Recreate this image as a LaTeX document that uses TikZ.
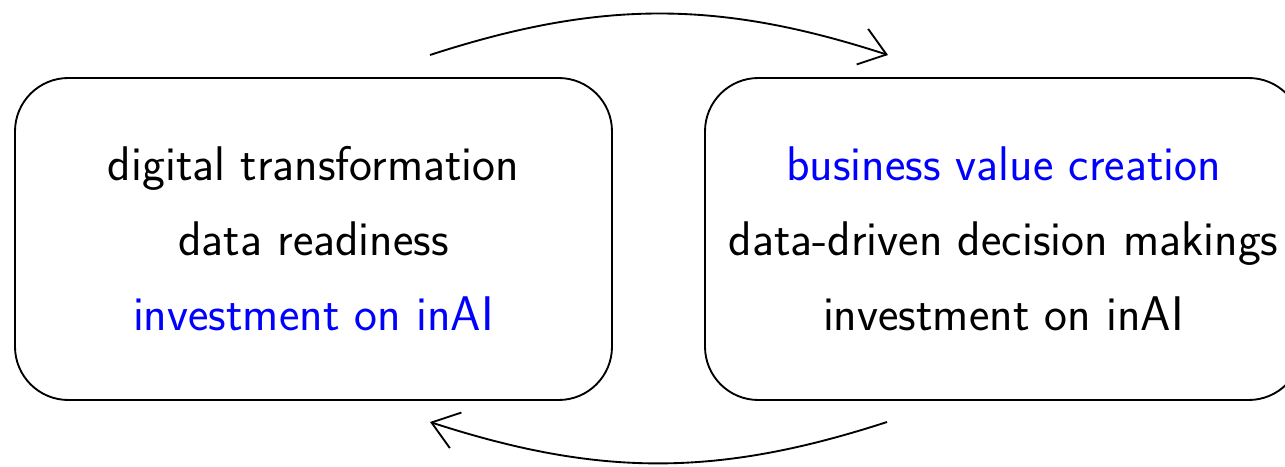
\documentclass[tikz,border=0pt]{standalone}
\usetikzlibrary{arrows.meta}
\begin{document}
\begin{tikzpicture}[x=0.75pt,y=-0.75pt,
  box/.style={draw,line width=1.4pt,rounded corners=40pt,minimum width=447.75pt,minimum height=241.5pt,
    align=center,font=\sffamily\fontsize{36.5}{56.25}\selectfont},
  cyc/.style={line width=1.4pt,-{Straight Barb[length=19pt,width=28pt,line width=1.4pt]}}]
\useasboundingbox (0,0) rectangle (1285,467);
\node[box] (L) at (313.5,239) {digital transformation\\data readiness\\\textcolor{blue}{investment on inAI}};
\node[box] (R) at (1003.5,239) {\textcolor{blue}{business value creation}\\data-driven decision makings\\investment on inAI};
\coordinate (t1) at (430,55);
\coordinate (t2) at (888,55);
\coordinate (b1) at (887,422);
\coordinate (b2) at (430,422);
\draw[cyc] (t1) to[bend left=18] (t2);
\draw[cyc] (b1) to[bend left=18] (b2);
\end{tikzpicture}
\end{document}
